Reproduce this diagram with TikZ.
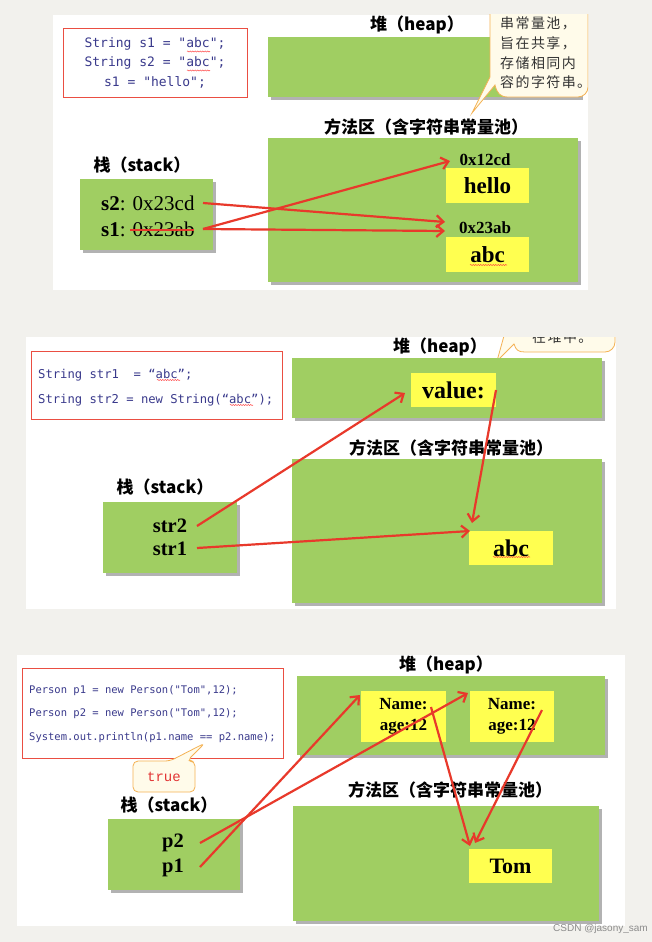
\documentclass[tikz,border=0pt]{standalone}
\usepackage{fontspec}
\setmainfont{Liberation Serif}
\newfontfamily\cjk{Noto Sans CJK SC}
\newfontfamily\cjkbub[LetterSpace=10]{Noto Sans CJK SC}
\newfontfamily\codefont{DejaVu Sans Mono}
\newfontfamily\truefont{Liberation Mono}
\newfontfamily\wmfont{Liberation Sans}
\usetikzlibrary{arrows.meta,shadows,decorations.pathmorphing}
\definecolor{bg}{RGB}{242,241,237}
\definecolor{grn}{RGB}{160,206,98}
\definecolor{ylw}{RGB}{255,255,80}
\definecolor{arr}{RGB}{232,57,43}
\definecolor{codeb}{RGB}{58,58,140}
\definecolor{boxred}{RGB}{234,78,66}
\definecolor{bubfill}{RGB}{255,251,234}
\definecolor{bubdraw}{RGB}{244,178,84}
\definecolor{truered}{RGB}{226,52,52}
\tikzset{
  greenbox/.style={fill=grn, inner sep=0, outer sep=0, anchor=north west,
    drop shadow={shadow xshift=2.5pt, shadow yshift=-2.5pt, fill=black, opacity=0.3}},
  ybox/.style={fill=ylw, inner sep=0, outer sep=0, anchor=north west,
    font=\bfseries\fontsize{23}{26}\selectfont},
  codebox/.style={draw=boxred, line width=1.3pt, fill=white, inner sep=0, anchor=north west},
  codeA/.style={font=\codefont\fontsize{13}{15}\selectfont, text=codeb, inner sep=0},
  codeB/.style={font=\codefont\fontsize{12.2}{14}\selectfont, text=codeb, inner sep=0, anchor=west},
  codeC/.style={font=\codefont\fontsize{10.5}{12}\selectfont, text=codeb, inner sep=0, anchor=west},
  areatitle/.style={font=\cjk\bfseries\fontsize{17}{20}\selectfont, inner sep=0},
  addr/.style={font=\bfseries\fontsize{17}{19}\selectfont, inner sep=0},
  var/.style={font=\bfseries\fontsize{20.5}{23}\selectfont, inner sep=0},
  ptr/.style={draw=arr, line width=2.2pt, -{Straight Barb[length=7pt,width=12pt]}},
  bubble/.style={draw=bubdraw, line width=0.8pt, fill=bubfill},
  bubtext/.style={font=\cjkbub\fontsize{14}{16}\selectfont, text=black!80, inner sep=0},
  wavy/.style={draw=red!75, line width=0.5pt, decorate, decoration={snake, amplitude=0.5pt, segment length=2.5pt}}
}
\begin{document}
\begin{tikzpicture}[x=1pt,y=-1pt]
\useasboundingbox (0,0) rectangle (652,942);
\fill[bg] (0,0) rectangle (652,942);
\fill[white] (53,15) rectangle (588,290);
\fill[white] (26,337) rectangle (616,609);
\fill[white] (17,655) rectangle (625,926);

%% ================= Panel 1 =================
\node[codebox, minimum width=184pt, minimum height=69pt] (code1) at (63,28) {};
\node[codeA] (c1a) at (155,44) {String s1 = "abc";};
\node[codeA] (c1b) at (155,63) {String s2 = "abc";};
\node[codeA] (c1c) at (155,82) {s1 = "hello";};
\draw[wavy] (187,51.5) -- (210,51.5);
\draw[wavy] (187,70.5) -- (210,70.5);

\node[areatitle] (h1lab) at (417,25) {堆（heap）};
\node[greenbox, minimum width=312pt, minimum height=60pt] (heap1) at (268,37) {};

\begin{scope}
\clip (53,15) rectangle (588,290);
\draw[bubble] (490,0) -- (490,77) -- (472,113) -- (495,85) .. controls (497,93) and (500,97) .. (508,97) [rounded corners=10pt] -- (588,97) -- (588,0);
\node[bubtext, anchor=west] (bt1) at (500,23) {串常量池，};
\node[bubtext, anchor=west] (bt2) at (500,43) {旨在共享，};
\node[bubtext, anchor=west] (bt3) at (500,63) {存储相同内};
\node[bubtext, anchor=west] (bt4) at (500,82) {容的字符串。};
\end{scope}

\node[areatitle] (m1lab) at (426,127) {方法区（含字符串常量池）};
\node[greenbox, minimum width=310pt, minimum height=144pt] (meth1) at (268,138) {};
\node[ybox, minimum width=83pt, minimum height=35pt] (hello) at (446,168) {hello};
\node[ybox, minimum width=83pt, minimum height=35pt] (abc1) at (446,237) {abc};
\draw[wavy] (470,265) -- (507,265);
\node[addr] (a12cd) at (485,160) {0x12cd};
\node[addr] (a23ab) at (485,228) {0x23ab};

\node[areatitle] (st1lab) at (142,165) {栈（stack）};
\node[greenbox, minimum width=133pt, minimum height=71pt] (stack1) at (80,179) {};
\node[font=\fontsize{21}{24}\selectfont, inner sep=0, anchor=west] (s2) at (101,203) {\textbf{s2}: 0x23cd};
\node[font=\fontsize{21}{24}\selectfont, inner sep=0, anchor=west] (s1) at (101,229) {\textbf{s1}: 0x23ab};
\coordinate (strA) at (130,230);
\coordinate (strB) at (194,230);
\draw[draw=arr, line width=1.8pt] (strA) -- (strB);

\coordinate (s2o) at (203,203);
\coordinate (s1o) at (203,229);
\coordinate (t23ab) at (445,222);
\coordinate (t12cd) at (450,161);
\coordinate (t23abb) at (445,231);
\draw[ptr] (s2o) -- (t23ab);
\draw[ptr] (s1o) -- (t12cd);
\draw[ptr] (s1o) -- (t23abb);

%% ================= Panel 2 =================
\node[codebox, minimum width=251pt, minimum height=68pt] (code2) at (31,351) {};
\node[codeB] (c2a) at (38,375) {String str1~~= “abc”;};
\node[codeB] (c2b) at (38,400) {String str2 = new String(“abc”);};
\draw[wavy] (157,380) -- (180,380);
\draw[wavy] (230,405) -- (253,405);

\node[areatitle] (h2lab) at (440,347) {堆（heap）};
\begin{scope}
\clip (26,337) rectangle (616,609);
\draw[bubble] (507,325) -- (497,361) -- (514,344) .. controls (516,350) and (518,352) .. (525,352) [rounded corners=10pt] -- (615,352) -- (615,325);
\node[bubtext, anchor=west] (bt5) at (532,337) {在堆中。};
\end{scope}
\node[greenbox, minimum width=310pt, minimum height=60pt] (heap2) at (292,358) {};
\node[ybox, minimum width=85pt, minimum height=34pt, font=\bfseries\fontsize{24}{26}\selectfont] (value) at (411,373) {value:};

\node[areatitle] (m2lab) at (451,448) {方法区（含字符串常量池）};
\node[greenbox, minimum width=310pt, minimum height=144pt] (meth2) at (292,459) {};
\node[ybox, minimum width=84pt, minimum height=34pt, font=\bfseries\fontsize{24}{26}\selectfont] (abc2) at (469,531) {abc};
\draw[wavy] (493,557) -- (530,557);

\node[areatitle] (st2lab) at (165,487) {栈（stack）};
\node[greenbox, minimum width=134pt, minimum height=71pt] (stack2) at (103,502) {};
\node[var] (str2) at (170,526) {str2};
\node[var] (str1) at (170,549) {str1};

\coordinate (str2o) at (197,526);
\coordinate (str1o) at (197,548);
\coordinate (tval) at (405,393);
\coordinate (tabc2) at (470,531);
\coordinate (valo) at (496,390);
\coordinate (tabc2b) at (472,523);
\draw[ptr] (str2o) -- (tval);
\draw[ptr] (str1o) -- (tabc2);
\draw[ptr] (valo) -- (tabc2b);

%% ================= Panel 3 =================
\node[codebox, minimum width=261pt, minimum height=90pt] (code3) at (22,668) {};
\node[codeC] (c3a) at (29,691) {Person p1 = new Person("Tom",12);};
\node[codeC] (c3b) at (29,714) {Person p2 = new Person("Tom",12);};
\node[codeC] (c3c) at (29,738) {System.out.println(p1.name == p2.name);};

\draw[bubble, rounded corners=5pt] (164,792) -- (133,792) -- (133,761) -- (170,761) -- (205,743) -- (187,761) -- (195,761) -- (195,792) -- cycle;
\node[font=\truefont\fontsize{14}{16}\selectfont, text=truered, inner sep=0] (true) at (164,777) {true};

\node[areatitle] (h3lab) at (446,665) {堆（heap）};
\node[greenbox, minimum width=308pt, minimum height=79pt] (heap3) at (297,676) {};
\node[ybox, minimum width=85pt, minimum height=51pt, align=center, font=\bfseries\fontsize{17}{21}\selectfont] (objA) at (361,691) {Name:\\age:12};
\node[ybox, minimum width=84pt, minimum height=51pt, align=center, font=\bfseries\fontsize{17}{21}\selectfont] (objB) at (470,691) {Name:\\age:12};

\node[areatitle] (m3lab) at (450,790) {方法区（含字符串常量池）};
\node[greenbox, minimum width=306pt, minimum height=115pt] (meth3) at (293,806) {};
\node[ybox, minimum width=83pt, minimum height=34pt, font=\bfseries\fontsize{22}{24}\selectfont] (tom) at (469,849) {Tom};

\node[areatitle] (st3lab) at (169,805) {栈（stack）};
\node[greenbox, minimum width=132pt, minimum height=71pt] (stack3) at (108,819) {};
\node[var] (p2) at (173,843) {p2};
\node[var] (p1) at (173,868) {p1};

\coordinate (p2o) at (200,843);
\coordinate (p1o) at (200,867);
\coordinate (tB) at (468,693);
\coordinate (tA) at (360,695);
\coordinate (nAo) at (431,707);
\coordinate (nBo) at (542,710);
\coordinate (tTomA) at (470,846);
\coordinate (tTomB) at (475,843);
\draw[ptr] (p2o) -- (tB);
\draw[ptr] (p1o) -- (tA);
\draw[ptr] (nAo) -- (tTomA);
\draw[ptr] (nBo) -- (tTomB);

\node[font=\wmfont\fontsize{10}{12}\selectfont, text=black!45, inner sep=0, anchor=east] (wm) at (648,929) {CSDN @jasony\_sam};
\end{tikzpicture}
\end{document}
